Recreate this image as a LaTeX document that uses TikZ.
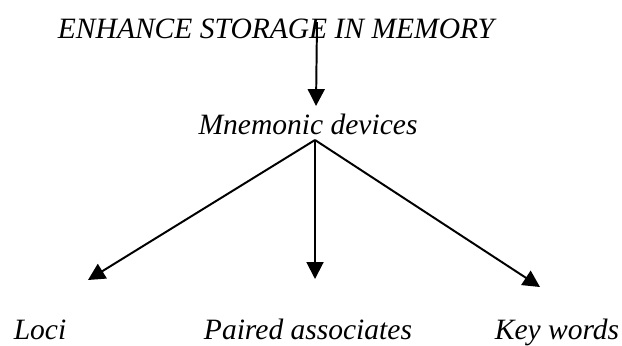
\documentclass[tikz,border=0pt]{standalone}
\usepackage{fontspec}
\setmainfont{Liberation Serif}
\usetikzlibrary{arrows.meta}
\tikzstyle{label}     = [font=\itshape\fontsize{21}{24}\selectfont, inner sep=0pt, anchor=base]
\tikzstyle{arrow}     = [line width=1.4pt,-{Triangle[length=12pt,width=12pt]}]

\begin{document}
\begin{tikzpicture}[x=0.025cm,y=-0.025cm]
        \useasboundingbox (0,0) rectangle (622,345);

        \node[label] (goal) at (276,38) {ENHANCE STORAGE IN MEMORY};
        \node[label] (mnem) at (308,134) {Mnemonic devices};

        \node[label] (loci)   at (40,339)  {Loci};
        \node[label] (paired) at (308,339) {Paired associates};
        \node[label] (keyw)   at (557,339) {Key words};

        \coordinate (top)   at (317,22);
        \coordinate (ttip)  at (316,106);
        \coordinate (split) at (315,140);
        \coordinate (ltip)  at (88,280);
        \coordinate (mtip)  at (315,279);
        \coordinate (rtip)  at (540,287);

        \draw[arrow] (top) -- (ttip);
        \draw[arrow] (split) -- (ltip);
        \draw[arrow] (split) -- (mtip);
        \draw[arrow] (split) -- (rtip);
    \end{tikzpicture}
\end{document}
